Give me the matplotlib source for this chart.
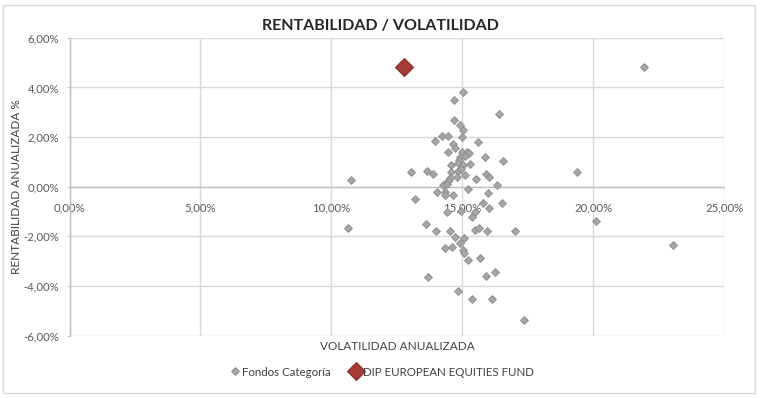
import matplotlib
matplotlib.use("Agg")
import matplotlib.pyplot as plt
from matplotlib.ticker import FuncFormatter, MultipleLocator
from matplotlib.patches import Rectangle
from matplotlib.lines import Line2D

plt.rcParams['font.family'] = ['Lato', 'DejaVu Sans']

title = "RENTABILIDAD / VOLATILIDAD"
x_label = "VOLATILIDAD ANUALIZADA"
y_label = "RENTABILIDAD ANUALIZADA %"
series_names = ["Fondos Categoría", "DIP EUROPEAN EQUITIES FUND"]

# Fondos Categoría: volatility (%), return (%)
cat_vol = [15.04, 14.68, 16.41, 14.69, 14.92, 15.01, 15.00, 13.97, 14.21, 14.47,
           14.64, 15.61, 14.46, 15.00, 15.17, 15.27, 15.86, 16.56, 14.92, 15.10,
           14.89, 14.56, 14.84, 15.03, 15.31, 13.05, 13.65, 13.89, 10.73, 14.56,
           14.84, 15.11, 15.52, 15.90, 16.02, 14.52, 14.78, 14.46, 16.34, 14.27,
           15.22, 14.02, 14.33, 14.33, 14.65, 15.98, 13.21, 14.43, 14.93, 15.79,
           16.02, 16.52, 15.50, 15.36, 13.63, 13.99, 14.52, 14.71, 15.48, 15.64,
           15.94, 17.00, 15.07, 14.90, 14.33, 14.59, 15.03, 15.07, 15.22, 15.67,
           13.70, 15.89, 16.24, 14.82, 15.37, 16.13, 17.34, 10.63, 21.92, 19.38,
           20.09, 23.06, 14.40, 14.95, 14.70]
cat_ret = [3.81, 3.50, 2.95, 2.70, 2.50, 2.29, 2.02, 1.84, 2.06, 2.06,
           1.74, 1.81, 1.38, 1.40, 1.41, 1.36, 1.18, 1.04, 1.18, 1.24,
           1.08, 0.88, 0.94, 0.88, 0.93, 0.58, 0.63, 0.51, 0.26, 0.58,
           0.63, 0.47, 0.30, 0.51, 0.38, 0.34, 0.40, 0.23, 0.05, 0.05,
           -0.09, -0.23, -0.20, -0.33, -0.33, -0.25, -0.50, -1.01, -0.97, -0.65,
           -0.87, -0.66, -1.01, -1.22, -1.52, -1.77, -1.77, -2.02, -1.75, -1.68,
           -1.79, -1.79, -2.08, -2.28, -2.48, -2.42, -2.55, -2.69, -2.96, -2.89,
           -3.66, -3.59, -3.43, -4.19, -4.53, -4.52, -5.39, -1.65, 4.81, 0.59,
           -1.40, -2.34, 0.12, 0.72, 1.55]

fund_vol = [12.77]
fund_ret = [4.83]

x_ticks = [0, 5, 10, 15, 20, 25]
y_ticks = [-6, -4, -2, 0, 2, 4, 6]

W, H = 760, 398
fig = plt.figure(figsize=(W / 100, H / 100), dpi=100)
fig.patch.set_facecolor('white')

# chart-area border
fig.patches.append(Rectangle((3 / W, 5 / H), 752 / W, 388 / H, transform=fig.transFigure,
                             fill=False, edgecolor='#D9D9D9', linewidth=1.0))

left, right, top, bottom = 69.5, 724.3, 37.9, 335.5
ax = fig.add_axes([left / W, 1 - bottom / H, (right - left) / W, (bottom - top) / H])
ax.set_xlim(x_ticks[0], x_ticks[-1])
ax.set_ylim(y_ticks[0], y_ticks[-1])
ax.xaxis.set_major_locator(MultipleLocator(5))
ax.yaxis.set_major_locator(MultipleLocator(2))

fmt = FuncFormatter(lambda v, p: (f"{v:.2f}%").replace('.', ','))
ax.xaxis.set_major_formatter(fmt)
ax.yaxis.set_major_formatter(fmt)

ax.set_axisbelow(True)
ax.grid(True, color='#D9D9D9', linewidth=1.0)
for s in ['top', 'right']:
    ax.spines[s].set_visible(False)
ax.spines['bottom'].set_position(('data', 0))
ax.spines['bottom'].set_color('#BFBFBF')
ax.spines['left'].set_color('#BFBFBF')
ax.spines['bottom'].set_linewidth(1.0)
ax.spines['left'].set_linewidth(1.0)

ax.tick_params(axis='y', length=2.5, color='#BFBFBF', labelsize=8.2, labelcolor='#595959', pad=5)
ax.tick_params(axis='x', length=0, labelsize=8.2, labelcolor='#595959', pad=11)

ax.plot(cat_vol, cat_ret, linestyle='none', marker='D', markersize=4.3,
        markerfacecolor='#A6A6A6', markeredgecolor='#8C8C8C', markeredgewidth=0.6,
        zorder=3, clip_on=False)
ax.plot(fund_vol, fund_ret, linestyle='none', marker='D', markersize=9.5,
        markerfacecolor='#A33A35', markeredgecolor='#8E2F2B', markeredgewidth=0.8,
        zorder=4, clip_on=False)

fig.text(0.5, 1 - 26 / H, title, ha='center', va='center',
         fontsize=11.5, fontweight='bold', color='#262626')
fig.text(0.5 * (left + right) / W, 1 - 347 / H, x_label, ha='center', va='center',
         fontsize=8.5, color='#404040')
fig.text(17 / W, 1 - 0.5 * (top + bottom) / H, y_label, ha='center', va='center',
         rotation=90, fontsize=8.5, color='#404040')

handles = [
    Line2D([], [], linestyle='none', marker='D', markersize=4.3,
           markerfacecolor='#A6A6A6', markeredgecolor='#8C8C8C', markeredgewidth=0.6),
    Line2D([], [], linestyle='none', marker='D', markersize=9.5,
           markerfacecolor='#A33A35', markeredgecolor='#8E2F2B', markeredgewidth=0.8),
]
leg = fig.legend(handles, series_names, loc='center', bbox_to_anchor=(382 / W, 1 - 372 / H),
                 ncol=2, frameon=False, fontsize=8.3, handlelength=0.8, handletextpad=0.2,
                 columnspacing=1.8, labelcolor='#404040')

fig.savefig('out.png', dpi=100)
